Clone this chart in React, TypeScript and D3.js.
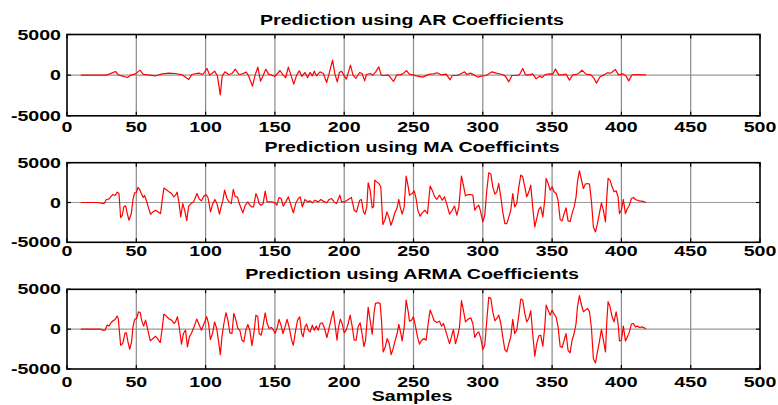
import React from "react";
import * as d3 from "d3";

const X_TICKS = [0, 50, 100, 150, 200, 250, 300, 350, 400, 450, 500];
const Y_TICKS = [-5000, 0, 5000];
const TITLES = [
  "Prediction using AR Coefficients",
  "Prediction using MA Coefficints",
  "Prediction using ARMA Coefficients",
];
const X_LABEL = "Samples";

const arSamples = [10, 28, 30, 35, 37, 43.5, 46, 49.5, 52.6, 55, 64, 68.7, 73.5, 78, 83, 87.9, 90, 95, 98, 101, 103, 106.5, 108.5, 110.6, 112, 114, 116.6, 119, 121.4, 124, 126, 129.3, 131, 133.8, 135.7, 137.7, 139.6, 141.5, 143.4, 145.5, 147.7, 150, 153.7, 156, 157.8, 159.7, 161.6, 163.6, 165.7, 167.6, 169.5, 171.7, 173.6, 175.3, 177, 178.4, 180, 182.5, 185, 187.3, 189, 191.6, 193.3, 195, 196.5, 198, 200, 201.6, 204.5, 206.4, 208.4, 211.2, 213, 214.8, 216, 218.8, 220.7, 222.6, 225, 226.7, 229, 231.5, 233, 235.6, 238, 240.4, 242.3, 245, 247, 249.5, 252, 256.7, 261.5, 264.4, 267, 270, 273.6, 276.4, 278, 280.8, 283, 286.8, 288.5, 291, 294, 296.4, 298.8, 302.4, 306.7, 309.6, 314, 316.3, 318.8, 321, 324, 326.4, 328.8, 330.8, 333.6, 336, 338.5, 341, 342.8, 344.7, 346.9, 349.3, 350.5, 352.4, 354.8, 357.7, 360.1, 362.5, 364.9, 368.5, 371.6, 374.5, 378, 380, 382, 384.6, 387, 390, 392.4, 395.6, 398, 401, 403.4, 405.3, 407.7, 410.6, 417.8];
const arValues = [0, 0, 100, 450, 40, -290, 0, 160, 615, 100, -80, 160, 250, 200, 40, -530, 80, 250, 80, 820, 0, 490, -80, -2420, -80, 410, 80, 200, 740, 80, 120, 370, -80, -1350, 0, 980, -740, -80, 740, 120, 0, -160, 570, 0, -290, 980, 0, -1100, 0, 530, -160, 330, -290, 330, -80, 490, -80, 410, 200, -900, 120, 1840, 120, -820, 320, 490, -80, -490, 1230, 0, -410, 330, 160, -700, 80, 200, 0, 370, 1020, 0, -40, 40, -200, -780, 40, 40, 160, 570, 120, 40, -80, -240, 120, 160, 290, 40, 120, -570, -40, -40, 40, 410, 80, 250, 0, -240, -120, -40, 410, 250, 80, -120, -820, -40, -40, 40, 820, 40, 40, 160, -450, -120, -290, 40, 120, 160, 120, 740, 40, 40, 120, -610, 40, 120, 610, 120, 40, -330, -980, -200, 0, 290, 250, 700, 40, 160, -120, -700, 40, 80, 40];

const maSamples = [10, 22, 26.8, 28.4, 30.4, 31.5, 33.2, 34.7, 36.3, 37.5, 38.7, 39.9, 41, 42.3, 43.5, 44.7, 46.4, 47.6, 48.8, 50, 51.2, 52.4, 53.8, 55, 56, 57.2, 58.6, 60.3, 62, 63.9, 65.8, 67.5, 68.7, 69.9, 71.6, 73.5, 75.4, 77, 78.3, 79.5, 80.7, 82.1, 83.5, 85, 86.4, 87.8, 89.5, 91.4, 93.8, 95.5, 97, 98.8, 100.5, 101.7, 103.6, 104.8, 106.7, 108.2, 110, 111.2, 112.5, 113.7, 115.4, 117, 118.5, 120, 121.4, 123, 124.3, 125.7, 126.9, 128.6, 130.5, 132.2, 133.4, 134.6, 136.3, 137.7, 138.6, 140, 141.5, 143, 144.4, 146, 147.8, 150, 151.4, 153, 154.5, 156, 157.8, 159.7, 161.6, 163.3, 165, 166.9, 168.3, 169.8, 171.7, 173.6, 175.3, 177, 178.9, 181.3, 183.2, 184.9, 187.3, 189.2, 190.9, 192.8, 194.4, 196.9, 198.1, 200.5, 203, 205.2, 207.2, 208.9, 211.2, 212.4, 213.9, 215, 216.3, 217.3, 218.7, 220.2, 221.2, 222.1, 223.6, 225, 226.4, 227.9, 229.3, 230.8, 232.2, 233.7, 235, 236.5, 238, 239.4, 240.4, 241.8, 243.3, 244.7, 246.2, 247.1, 249, 250.5, 252, 253.1, 254.8, 256.3, 258.2, 260.1, 262, 263.5, 265.1, 266.8, 268.8, 270.7, 272.4, 274, 276, 277.9, 279.6, 281.3, 282.7, 284.6, 286, 287.5, 289.4, 291.3, 292.8, 294.2, 295.7, 297.1, 298.3, 300, 301.4, 302.9, 304.3, 305.8, 307.2, 308.7, 310.1, 311.5, 313, 314.4, 315.9, 317.3, 318.8, 320.2, 321.6, 323, 324.5, 326, 327.4, 328.8, 330.3, 331.7, 333.2, 334.6, 336, 337.5, 338.9, 340.4, 341.8, 343.3, 344.7, 345.7, 347.1, 348.6, 350, 351.4, 352.9, 354.3, 355.8, 357.2, 358.7, 360.1, 361.5, 363, 364.4, 365.9, 367.3, 368.3, 369.7, 371.2, 372.6, 374, 375.5, 377, 378.4, 379.8, 381.3, 382.7, 384.1, 385.6, 387, 388.5, 389.4, 390.4, 391.8, 393.3, 394.7, 396.2, 397.6, 398.6, 400, 401.4, 402.9, 404.3, 405.8, 407.2, 408.7, 410.1, 411.5, 413, 414.9, 417.8];
const maValues = [0, 0, -130, 380, 460, 710, 1000, 880, 1300, 1130, -1890, -1600, -550, -420, -1390, -2230, -1390, 380, 1220, 1260, 1890, 1640, 1050, 630, 880, 290, -550, -1470, -1180, -970, -1180, -1390, 290, 1810, 1640, 1340, 1130, 710, 920, 1300, 80, -1810, -130, -1050, -2270, -460, -130, 80, 1130, 420, 210, 800, 970, 630, -1180, -340, 380, -130, -1470, -550, 290, 1550, 500, 80, -130, 1640, 710, 710, -130, -760, -1300, -340, 80, -420, -550, -550, 1130, 500, -130, -340, -130, 1430, 80, 80, 80, -40, -340, 630, 500, -460, 80, 710, -340, -1300, -130, 500, 710, -550, 380, 80, 210, -40, 290, 80, 380, 170, -40, 380, 500, 80, -130, 920, 80, 80, 380, 630, -970, -1180, 290, 380, -1180, -1470, -550, 2480, 1550, -670, -550, 2820, 2560, 2390, 1970, -2770, -2230, -1180, -1810, -2860, -2230, -1300, -760, 380, -550, -1470, -550, 3320, 1970, 920, 1130, 1470, 380, -970, -1720, -1300, -970, -1390, 2060, 1550, 800, 380, 920, 290, 710, -210, -1470, -970, -460, -1600, -550, 3320, 2180, 840, 1000, 1000, 920, -970, -550, -340, -1050, -2440, -1600, 1550, 3740, 3570, 1970, 1050, 1340, 2390, 710, -1180, -2650, -2650, -1810, -970, 1130, -550, -130, 1970, 3450, 3230, 1970, 710, 1340, 2180, -550, -3070, -2020, -880, -550, -1810, 290, 3030, 2390, 1550, 1970, 1340, 1130, 290, -2140, -2310, -1390, -670, -2310, -2390, -1390, -550, 710, 2600, 3990, 2810, 1760, 2310, 2390, 2310, 80, -3070, -3700, -2650, -1390, -40, -970, -2440, 500, 3030, 2810, 1970, 1340, 1470, 710, -1390, -970, 380, -1390, -760, -340, 500, 630, 380, 290, 210, 170, 0];

const armaSamples = [10, 24, 25.6, 27.5, 28.9, 30.4, 31.8, 33.2, 34.7, 36.1, 37, 38.7, 40.2, 41.9, 42.8, 44, 45.2, 46.6, 47.6, 48.8, 50.2, 51.6, 52.9, 53.8, 55.3, 56.7, 58.1, 60.1, 62, 63.9, 65.3, 67.3, 68.7, 69.9, 71.6, 73.5, 75.4, 77.3, 78.3, 79.7, 81.1, 82.6, 84, 85.5, 86.9, 88.3, 89.7, 91.7, 93.6, 95.5, 97, 98.9, 100.8, 102.2, 103.4, 105, 106.5, 108, 109.4, 110.6, 111.8, 113.2, 114.7, 116.1, 117.5, 119, 120.4, 121.9, 123.3, 124.7, 126.2, 127.6, 129, 130.5, 131.9, 133.4, 134.8, 136.3, 137.7, 138.6, 140.1, 141.5, 143, 144.4, 145.9, 147.4, 148.8, 150.1, 151.5, 153, 154.4, 155.8, 157.3, 158.8, 160.2, 162.1, 163.3, 165, 166.4, 167.9, 169.3, 170.3, 171.7, 172.9, 174.1, 175.5, 177, 178.4, 179.8, 181.3, 182.7, 184.2, 185.6, 187.5, 189, 190.4, 192.1, 193.3, 194.8, 195.7, 197.2, 198.5, 200, 201.4, 202.9, 204.3, 205.8, 207.2, 208.6, 210, 211.5, 212.9, 214.2, 215.4, 217.3, 218.7, 220.2, 221.6, 222.6, 224.5, 225.9, 226.9, 228.1, 229.6, 231, 232.5, 233.9, 235.3, 236.8, 238.2, 239.4, 240.9, 241.8, 243.3, 244.7, 246.2, 247.1, 248.6, 250, 251.4, 252.9, 254.3, 255.8, 257.7, 259.1, 260.6, 262, 263.5, 264.9, 266.8, 268.8, 270.2, 271.6, 273.1, 274.5, 276, 277.4, 278.8, 280.3, 281.7, 283.2, 284.6, 286, 287.5, 289.4, 291.3, 292.8, 294.2, 295.7, 297.1, 298.6, 300, 301.4, 302.9, 304.3, 305.8, 307.2, 308.7, 310.1, 311.5, 313, 314.4, 315.9, 317.3, 318.8, 320.2, 321.6, 323, 324.5, 326, 327.4, 328.8, 330.3, 331.7, 333.2, 334.6, 336, 337.5, 338.9, 340.4, 341.8, 343.3, 344.7, 345.7, 347.1, 348.6, 350, 351.4, 352.9, 354.3, 355.8, 357.2, 358.7, 360.1, 361.5, 363, 364.4, 365.9, 367.3, 368.3, 369.7, 371.2, 372.6, 374, 375.5, 377, 378.4, 379.8, 381.3, 382.7, 384.1, 385.6, 387, 388.5, 389.4, 390.4, 391.8, 393.3, 394.7, 396.2, 397.6, 398.6, 400, 401.4, 402.9, 404.3, 405.8, 407.2, 408.7, 410.1, 411.5, 413, 414.9, 417.8];
const armaValues = [0, 0, -130, -130, 500, 420, 800, 1050, 1220, 1640, 1340, -2020, -1810, -460, -460, -1600, -2520, -1600, 290, 1220, 1340, 2180, 2060, 1130, 380, 1130, 80, -1470, -1180, -880, -1180, -1680, 80, 1890, 1640, 1300, 1130, 710, 920, 1550, 80, -1890, -550, -130, -2230, -970, -550, 290, 1260, 500, -130, 710, 1550, 630, -1300, -550, 920, 80, -1600, -3190, -970, 710, 2060, 1130, -460, -550, 1970, 1130, 80, -130, -1390, -1600, -130, 590, -130, -2060, -550, 1760, 1550, -550, -760, 500, 2060, 710, 80, 210, -40, -550, 80, 1220, 500, -550, 290, 1220, 290, -1390, -2020, -130, 1130, 1550, -550, -970, 290, 630, -130, -340, 500, -130, 380, -130, 710, 800, 210, -1050, 80, 1130, 2270, 710, -1390, 80, 1260, 710, -460, -130, 710, 1760, 290, -1390, -1390, 290, 800, -550, -2200, -1390, 2730, 1130, -630, 2180, 3240, 3320, 3230, 1130, -2860, -2230, -1180, -1810, -3190, -2440, -1390, -550, 590, -550, -1470, 290, 3650, 2180, 1000, 1130, 1550, 380, -970, -1890, -1390, -1180, -1390, 710, 2390, 1760, 1050, 840, 1000, 380, 710, -130, -970, -1810, -970, -40, -1810, -970, 290, 3570, 2390, 920, 1260, 1430, 710, -1050, -550, -340, -1180, -2560, -2020, 1130, 3990, 3860, 2180, 1050, 1340, 1760, 710, -970, -2560, -2860, -1810, -970, 1220, -550, -130, 1760, 3780, 3650, 1970, 920, 1340, 2310, -550, -3400, -1810, -840, -760, -2140, 290, 3030, 2390, 1760, 2390, 1890, 1550, 290, -2140, -2310, -1390, -550, -2650, -2980, -1390, -550, 710, 2810, 4200, 3030, 2180, 2390, 2600, 2180, 80, -3700, -4240, -2860, -1600, -40, -1390, -2860, 710, 3450, 2810, 1550, 920, 2180, 710, -1470, -1390, 380, -1470, -970, -340, 630, 710, 290, 380, 210, 290, 40];

const SERIES = [
  { xs: arSamples, ys: arValues },
  { xs: maSamples, ys: maValues },
  { xs: armaSamples, ys: armaValues },
];

const FONT = "'Liberation Sans', Arial, Helvetica, sans-serif";
const SX = 1.4;

function SText({ x, y, anchor, size, children }: any) {
  return (
    <text
      transform={`translate(${x},${y}) scale(${SX},1)`}
      textAnchor={anchor}
      fontFamily={FONT}
      fontWeight="bold"
      fontSize={size}
      fill="#000"
    >
      {children}
    </text>
  );
}

const LEFT = 67;
const RIGHT = 760;
const PANELS = [
  { top: 34.5, bottom: 115.8, titleY: 25, tickY: 131.7 },
  { top: 162.7, bottom: 242.3, titleY: 151.5, tickY: 255.7 },
  { top: 289.3, bottom: 369, titleY: 279.3, tickY: 386.5 },
];

function Panel({ idx }: { idx: number }) {
  const p = PANELS[idx];
  const s = SERIES[idx];
  const x = d3.scaleLinear().domain([0, 500]).range([LEFT, RIGHT]);
  const y = d3.scaleLinear().domain([-5000, 5000]).range([p.bottom, p.top]);
  const pts = s.xs.map((v, i) => [v, s.ys[i]] as [number, number]);
  const line = d3
    .line<[number, number]>()
    .x((d) => x(d[0]))
    .y((d) => y(d[1]));
  const tl = 4;
  return (
    <g>
      {X_TICKS.slice(1, -1).map((t) => (
        <line key={"g" + t} x1={x(t)} x2={x(t)} y1={p.top} y2={p.bottom} stroke="#8a8a8a" strokeWidth={1.2} />
      ))}
      <line x1={LEFT} x2={RIGHT} y1={y(0)} y2={y(0)} stroke="#9a9a9a" strokeWidth={1.2} />
      {X_TICKS.map((t) => (
        <g key={"t" + t}>
          <line x1={x(t)} x2={x(t)} y1={p.bottom} y2={p.bottom - tl} stroke="#000" strokeWidth={1.2} />
          <line x1={x(t)} x2={x(t)} y1={p.top} y2={p.top + tl} stroke="#000" strokeWidth={1.2} />
        </g>
      ))}
      {Y_TICKS.map((t) => (
        <g key={"yt" + t}>
          <line x1={LEFT} x2={LEFT + tl} y1={y(t)} y2={y(t)} stroke="#000" strokeWidth={1.2} />
          <line x1={RIGHT} x2={RIGHT - tl} y1={y(t)} y2={y(t)} stroke="#000" strokeWidth={1.2} />
        </g>
      ))}
      <path d={line(pts) || ""} fill="none" stroke="#ff0000" strokeWidth={1.2} strokeLinejoin="round" />
      <rect x={LEFT} y={p.top} width={RIGHT - LEFT} height={p.bottom - p.top} fill="none" stroke="#000" strokeWidth={1.6} />
      {X_TICKS.map((t) => (
        <SText key={"xl" + t} x={x(t)} y={p.tickY} anchor="middle" size={14}>
          {String(t)}
        </SText>
      ))}
      {Y_TICKS.map((t) => (
        <SText key={"yl" + t} x={61} y={y(t) + 5} anchor="end" size={14}>
          {String(t)}
        </SText>
      ))}
      <SText x={412} y={p.titleY} anchor="middle" size={14}>
        {TITLES[idx]}
      </SText>
    </g>
  );
}

export default function App() {
  return (
    <svg
      width={778}
      height={405}
      style={{ position: "absolute", left: 0, top: 0, background: "#fff" }}
    >
      <rect x={0} y={0} width={778} height={405} fill="#fff" />
      {[0, 1, 2].map((i) => (
        <Panel key={i} idx={i} />
      ))}
      <SText x={412} y={401} anchor="middle" size={14}>
        {X_LABEL}
      </SText>
    </svg>
  );
}
